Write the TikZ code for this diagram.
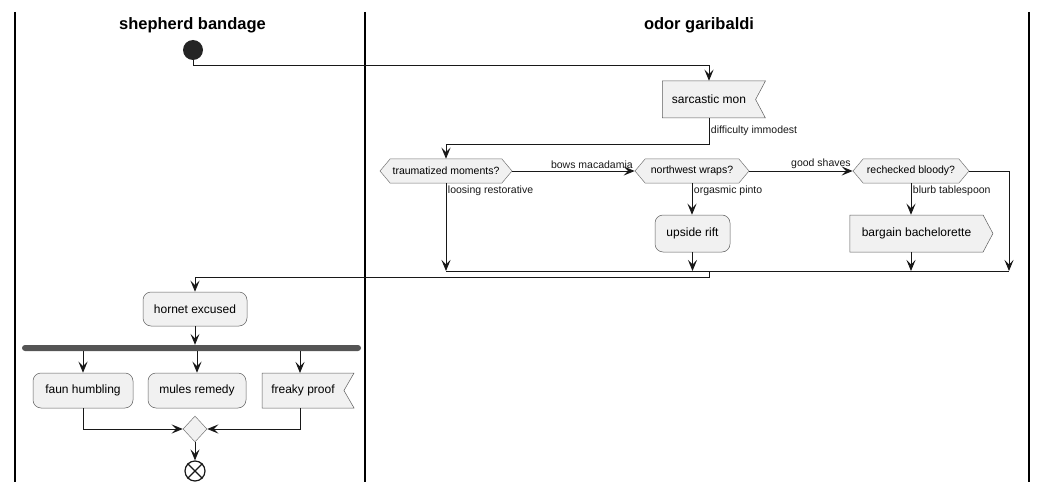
\documentclass[tikz,border=0pt]{standalone}
\usepackage{fontspec}
\setmainfont{Liberation Sans}
\usetikzlibrary{arrows.meta,shapes.symbols,shapes.geometric}
\definecolor{actfill}{HTML}{F1F1F1}
\definecolor{actline}{HTML}{181818}
\definecolor{barfill}{HTML}{555555}

\begin{document}
\begin{tikzpicture}[x=1pt, y=-1pt,
    every node/.style={font=\fontsize{12}{14}\selectfont},
    act/.style={draw=actline!70, fill=actfill, line width=0.5pt, rounded corners=8pt, inner sep=0pt, minimum height=35pt},
    hexa/.style={draw=actline!60, fill=actfill, line width=0.5pt, shape=signal, signal to=west and east, signal pointer angle=100, inner sep=0pt, minimum height=24pt, font=\fontsize{10.5}{12}\selectfont},
    recv/.style={draw=actline!70, fill=actfill, line width=0.5pt, shape=signal, signal to=nowhere, signal from=east, signal pointer angle=124, inner sep=0pt, minimum height=37pt},
    send/.style={draw=actline!70, fill=actfill, line width=0.5pt, shape=signal, signal to=east, signal pointer angle=124, inner sep=0pt, minimum height=37pt},
    lbl/.style={font=\fontsize{10.5}{12}\selectfont, inner sep=1.5pt},
    lane/.style={font=\fontsize{16.5}{18}\selectfont\bfseries},
    arr/.style={-{Stealth[length=11pt, width=9pt, inset=4.5pt]}, line width=0.9pt, actline}]
      \useasboundingbox (0,0) rectangle (1047,492);
      % swimlanes
      \draw[line width=1.4pt] (15,12) -- (15,482);
      \draw[line width=1.4pt] (365,12) -- (365,482);
      \draw[line width=1.4pt] (1029,12) -- (1029,482);
      \node[lane] at (192.5,25) {shepherd bandage};
      \node[lane] at (699,25) {odor garibaldi};
      % nodes
      \node[circle, fill=actline!95, minimum size=20pt, inner sep=0pt] (start) at (193,50) {};
      \node[recv, minimum width=103pt] (sarc) at (709,99.5) {sarcastic mon\hspace{12pt}};
      \node[hexa, minimum width=132pt] (trauma) at (446,171) {traumatized moments?};
      \node[hexa, minimum width=114pt] (north) at (692,171) {northwest wraps?};
      \node[hexa, minimum width=116pt] (rech) at (911,171) {rechecked bloody?};
      \node[act, minimum width=75pt, minimum height=37pt] (upside) at (692.5,233.5) {upside rift};
      \node[send, minimum width=143pt] (barg) at (916.5,233.5) {bargain bachelorette\hspace{10pt}};
      \coordinate (join) at (709,271);
      \coordinate (joinR) at (1009,271);
      \node[act, minimum width=104pt, minimum height=34pt] (hornet) at (195,309) {hornet excused};
      \node[fill=barfill, rounded corners=3pt, minimum width=339pt, minimum height=6pt, inner sep=0pt] (fork) at (191.5,348) {};
      \node[act, minimum width=100pt] (faun) at (83,390.5) {faun humbling};
      \node[act, minimum width=98pt] (mules) at (197,390.5) {mules remedy};
      \node[recv, minimum width=92pt, minimum height=35pt, signal pointer angle=120] (freaky) at (303,390.5) {freaky proof\hspace{9pt}};
      \node[diamond, draw=actline!60, fill=actfill, line width=0.5pt, minimum width=24pt, minimum height=26pt, inner sep=0pt] (merge) at (195,429) {};
      \node[circle, draw=actline, line width=1.2pt, fill=white, minimum size=20pt, inner sep=0pt] (stop) at (195,471) {};
      \draw[line width=1.2pt, actline] (stop.north west) -- (stop.south east) (stop.north east) -- (stop.south west);
      % connectors
      \draw[arr] (start.south) -- ++(0,5) -| (sarc.north);
      \draw[arr] (sarc.south) -- node[lbl, anchor=west]{difficulty immodest} ++(0,26) -| (trauma.north);
      \draw[arr] (trauma.east) -- node[lbl, pos=1, anchor=south east]{bows macadamia} (north.west);
      \draw[arr] (north.east) -- node[lbl, pos=1, anchor=south east]{good shaves} (rech.west);
      \draw[arr] (trauma.south) -- node[lbl, pos=0, anchor=north west, yshift=-1pt]{loosing restorative} (trauma.south |- join);
      \draw[arr] (north.south) -- node[lbl, pos=0, anchor=north west, yshift=-1pt]{orgasmic pinto} (north.south |- upside.north);
      \draw[arr] (rech.south) -- node[lbl, pos=0, anchor=north west, yshift=-1pt]{blurb tablespoon} (rech.south |- barg.north);
      \draw[arr] (upside.south) -- (upside.south |- join);
      \draw[arr] (rech.south |- barg.south) -- (rech.south |- join);
      \draw[arr] (rech.east) -| (joinR);
      \draw[line width=0.9pt, actline] (trauma.south |- join) -- (joinR);
      \draw[arr] (join) -- ++(0,6) -| (hornet.north);
      \draw[arr] (hornet.south) -- (hornet.south |- fork.north);
      \draw[arr] (fork.south -| faun.north) -- (faun.north);
      \draw[arr] (fork.south -| mules.north) -- (mules.north);
      \draw[arr] (fork.south -| 300,0) -- (300,373);
      \draw[arr] (faun.south) |- (merge.west);
      \draw[arr] (300,408) |- (merge.east);
      \draw[arr] (merge.south) -- (stop.north);
\end{tikzpicture}
\end{document}
